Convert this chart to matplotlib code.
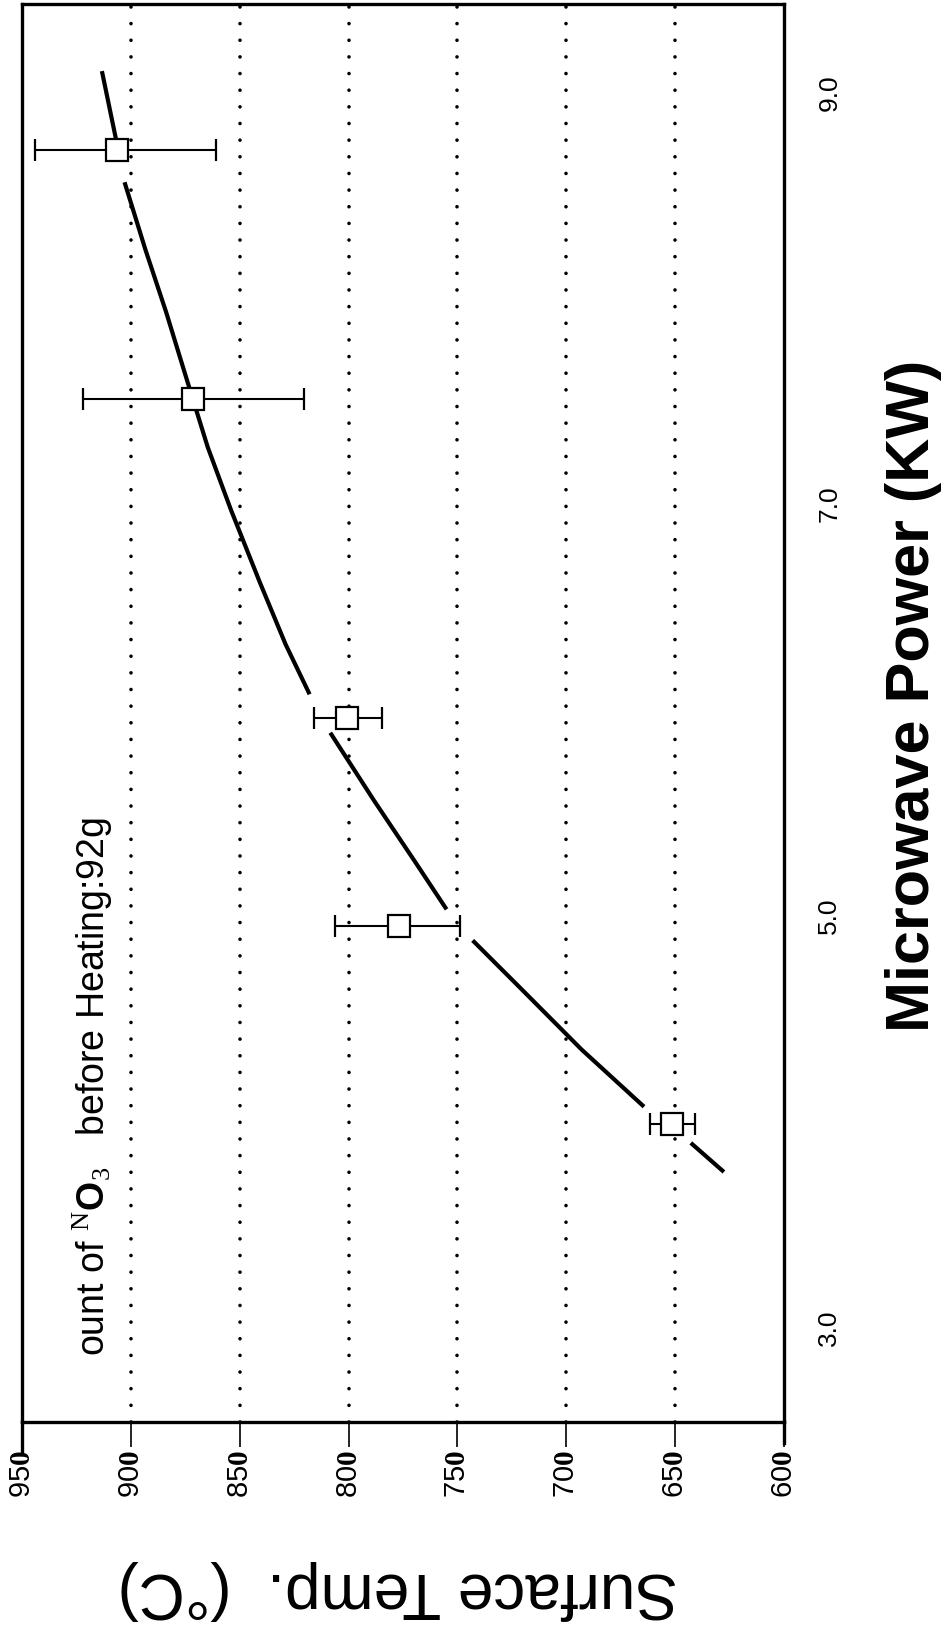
import numpy as np
import matplotlib
matplotlib.use("Agg")
import matplotlib.pyplot as plt

# ---------------- data ----------------
power_kw = [8.72, 7.51, 5.96, 4.95, 3.99]
temp_c = [90.64, 87.15, 80.09, 77.67, 65.16]
temp_err_high = [94.40, 92.20, 81.59, 80.62, 66.15]
temp_err_low = [86.09, 82.05, 78.46, 74.88, 64.09]

# hand-drawn trend curve (gaps where it meets the markers)
curve_temp = [91.33, 90.62, np.nan,
              90.29, 89.33, 88.38, 87.43, 86.47, 85.41, 84.08, 82.89, 81.79,
              np.nan,
              80.84, 78.84, 76.92, 75.50,
              np.nan,
              74.30, 72.15, 69.30, 66.43,
              np.nan,
              64.28, 62.76]
curve_power = [9.104, 8.741, np.nan,
               8.564, 8.236, 7.933, 7.605, 7.277, 6.974, 6.621, 6.318, 6.076,
               np.nan,
               5.889, 5.561, 5.258, 5.031,
               np.nan,
               4.880, 4.653, 4.350, 4.072,
               np.nan,
               3.896, 3.755]

temp_ticks = [95, 90, 85, 80, 75, 70, 65, 60]
temp_tick_labels = ["95", "90", "85", "80", "75", "70", "65", "60"]
grid_temps = [90, 85, 80, 75, 70, 65]
power_ticks = [3.0, 5.0, 7.0, 9.0]
power_tick_labels = ["3.0", "5.0", "7.0", "9.0"]

# ---------------- style ----------------
plt.rcParams["font.family"] = ["Liberation Sans", "DejaVu Sans"]
plt.rcParams["mathtext.fontset"] = "custom"
plt.rcParams["mathtext.rm"] = "Liberation Serif"
plt.rcParams["mathtext.bf"] = "Liberation Serif:bold"
plt.rcParams["mathtext.sf"] = "Liberation Sans:bold"
plt.rcParams["mathtext.it"] = "Liberation Sans"

W, H = 943, 1628
fig = plt.figure(figsize=(W / 100, H / 100), dpi=100)
ax = fig.add_axes([22 / W, 1 - 1422 / H, (784 - 22) / W, (1422 - 4) / H])

ax.set_xlim(95, 60)
ax.set_ylim(2.54, 9.43)

for s in ax.spines.values():
    s.set_linewidth(2.4)

# dotted grid lines
for t in grid_temps:
    ax.axvline(t, color="black", lw=2.6, linestyle=(0, (0.01, 4.6)),
               dash_capstyle="round", zorder=1)

# trend curve
ax.plot(curve_temp, curve_power, color="black", lw=3.0, zorder=2,
        solid_capstyle="butt", solid_joinstyle="round")

# data points with horizontal error bars
xerr = np.array([np.array(temp_c) - np.array(temp_err_low),
                 np.array(temp_err_high) - np.array(temp_c)])
ax.errorbar(temp_c, power_kw, xerr=xerr, fmt="s", ms=15.5, mfc="white",
            mec="black", mew=1.6, ecolor="black", elinewidth=1.5,
            capsize=8, capthick=2.0, zorder=3)

# temperature ticks (bottom), labels rotated
ax.set_xticks(temp_ticks)
ax.set_xticklabels([lab + r"$\mathbf{0}$" for lab in temp_tick_labels],
                   rotation=90, fontsize=21)
ax.tick_params(axis="x", direction="out", length=18, width=1.2, pad=2)

# power ticks (right side), labels rotated
ax.set_yticks(power_ticks)
ax.set_yticklabels(power_tick_labels, rotation=90, fontsize=19,
                   va="center")
ax.tick_params(axis="y", left=False, right=False, labelleft=False,
               labelright=True, length=0, pad=24)

# extension of frame lines below bottom axis
ax.plot([0, 0], [0, -0.022], transform=ax.transAxes, color="black",
        lw=2.4, clip_on=False)
ax.plot([1, 1], [0, -0.015], transform=ax.transAxes, color="black",
        lw=2.4, clip_on=False)

# annotation inside plot
ax.text(91.74, 2.86,
        r"ount of $^{\mathrm{N}}\mathsf{O}_{\mathit{3}}$   before Heating:92g",
        rotation=90, ha="center", va="bottom", fontsize=27)

# axis titles
fig.text(913 / W, 1 - 696 / H, "Microwave Power (KW)", rotation=90,
         ha="center", va="center", fontsize=44, fontweight="bold")
fig.text(398 / W, 1 - 1590 / H, "Surface Temp.  (°C)", rotation=180,
         ha="center", va="center", fontsize=46)

fig.savefig("out.png", dpi=100)
